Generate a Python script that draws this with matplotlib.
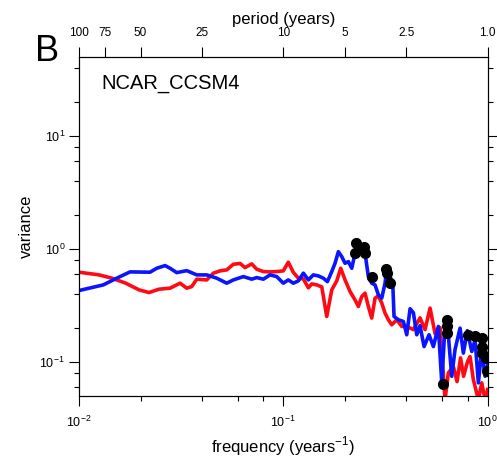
import matplotlib
matplotlib.use("Agg")
import matplotlib.pyplot as plt
from matplotlib.ticker import LogLocator, NullFormatter, NullLocator

plt.rcParams['font.family'] = ['Liberation Sans', 'DejaVu Sans']
plt.rcParams['mathtext.fontset'] = 'custom'
plt.rcParams['mathtext.rm'] = 'Liberation Sans'

# red spectrum (frequency in 1/years, variance)
red_freq = [0.0100, 0.01253, 0.0145, 0.01693, 0.01967, 0.02201, 0.02465, 0.0279,
            0.03123, 0.03368, 0.03563, 0.0377, 0.04219, 0.04545, 0.04901, 0.05287,
            0.05695, 0.06143, 0.06498, 0.07007, 0.07413, 0.07986, 0.08614, 0.09289,
            0.1000, 0.1058, 0.1120, 0.1185, 0.1254, 0.1327, 0.1378, 0.1458, 0.1543,
            0.1632, 0.1727, 0.1827, 0.1911, 0.2006, 0.2123, 0.2245, 0.2331, 0.2422,
            0.2513, 0.2609, 0.2710, 0.2813, 0.2920, 0.3034, 0.3149, 0.3269, 0.3396,
            0.3594, 0.3802, 0.4022, 0.4334, 0.4672, 0.4943, 0.5230, 0.5534, 0.5855,
            0.6193, 0.6428, 0.6801, 0.7090, 0.7375, 0.7629, 0.7981, 0.8208, 0.8520,
            0.9016, 0.9366, 0.9723, 1.0]
red_var = [0.619, 0.586, 0.548, 0.495, 0.432, 0.409, 0.438, 0.447,
           0.495, 0.447, 0.462, 0.537, 0.529, 0.607, 0.636, 0.649,
           0.728, 0.740, 0.680, 0.733, 0.658, 0.627, 0.623, 0.627,
           0.636, 0.759, 0.617, 0.548, 0.540, 0.450, 0.488, 0.478, 0.459,
           0.251, 0.432, 0.519, 0.671, 0.529, 0.417, 0.352, 0.308, 0.377,
           0.404, 0.308, 0.243, 0.365, 0.382, 0.330, 0.269, 0.235, 0.212,
           0.235, 0.205, 0.205, 0.192, 0.244, 0.192, 0.298, 0.177, 0.200,
           0.046, 0.0795, 0.0909, 0.0666, 0.108, 0.0742, 0.100, 0.111, 0.0694,
           0.046, 0.0649, 0.046, 0.0566]

# blue spectrum
blue_freq = [0.0100, 0.01315, 0.0153, 0.01777, 0.02226, 0.02401, 0.02637, 0.0279,
             0.03009, 0.03368, 0.0377, 0.04219, 0.04723, 0.05287, 0.05695, 0.06375,
             0.07007, 0.07413, 0.07986, 0.08614, 0.09289, 0.1000, 0.1058, 0.1120,
             0.1185, 0.1254, 0.1327, 0.1403, 0.1485, 0.1571, 0.1644, 0.1727, 0.1792,
             0.1860, 0.1933, 0.2006, 0.2083, 0.2164, 0.2245, 0.2331, 0.2422, 0.2513,
             0.2609, 0.2710, 0.2813, 0.2920, 0.3034, 0.3149, 0.3210, 0.3332, 0.3435,
             0.3485, 0.3659, 0.3870, 0.4022, 0.4175, 0.4334, 0.4502, 0.4672, 0.4888,
             0.5171, 0.5429, 0.5742, 0.5968, 0.6193, 0.6428, 0.6678, 0.6932, 0.7334,
             0.7612, 0.7964, 0.8370, 0.8686, 0.9016, 0.9366, 0.9723, 1.0]
blue_var = [0.426, 0.478, 0.548, 0.623, 0.619, 0.671, 0.708, 0.671,
            0.614, 0.639, 0.586, 0.586, 0.548, 0.495, 0.529, 0.566,
            0.537, 0.555, 0.537, 0.586, 0.566, 0.495, 0.529, 0.495,
            0.519, 0.607, 0.529, 0.586, 0.574, 0.548, 0.511, 0.627, 0.743,
            0.941, 0.850, 0.743, 0.768, 0.671, 0.911, 1.078, 1.041, 0.911,
            0.566, 0.495, 0.478, 0.390, 0.365, 0.495, 0.671, 0.566, 0.495,
            0.251, 0.235, 0.227, 0.173, 0.294, 0.271, 0.173, 0.208, 0.136,
            0.173, 0.136, 0.205, 0.0649, 0.212, 0.170, 0.0742, 0.128, 0.198,
            0.119, 0.188, 0.123, 0.156, 0.0649, 0.128, 0.0742, 0.0922]

# significant points
sig_freq = [0.2271, 0.2245, 0.2357, 0.2485, 0.2513, 0.2710, 0.3174, 0.3232, 0.3332,
            0.6314, 0.6314, 0.6314, 0.6036, 0.8054, 0.8686, 0.9366, 0.9366, 0.9366,
            0.9799, 0.9910]
sig_var = [1.116, 0.911, 0.988, 1.041, 0.911, 0.559, 0.658, 0.607, 0.501,
           0.235, 0.205, 0.179, 0.0639, 0.173, 0.170, 0.162, 0.136, 0.119,
           0.108, 0.0821]

period_labels = ['100', '75', '50', '25', '10', '5', '2.5', '1.0']
period_vals = [100, 75, 50, 25, 10, 5, 2.5, 1.0]

fig = plt.figure(figsize=(4.97, 4.61), dpi=100)
ax = fig.add_axes([0.159, 0.1417, 0.822, 0.7353])

ax.plot(red_freq, red_var, color='#ff0a14', lw=2.6, solid_joinstyle='round')
ax.plot(blue_freq, blue_var, color='#0a14ff', lw=2.6, solid_joinstyle='round')
ax.plot(sig_freq, sig_var, 'o', color='black', ms=7, mec='black')

ax.set_xscale('log')
ax.set_yscale('log')
ax.set_xlim(0.01, 1.0)
ax.set_ylim(0.05, 50)

ax.xaxis.set_minor_locator(LogLocator(base=10, subs=[2, 4, 6, 8]))
ax.yaxis.set_minor_locator(LogLocator(base=10, subs=[2, 4, 6, 8]))
ax.xaxis.set_minor_formatter(NullFormatter())
ax.yaxis.set_minor_formatter(NullFormatter())
ax.tick_params(which='both', direction='out', top=False, right=True, width=0.8)
ax.tick_params(which='major', length=7, labelsize=9)
ax.tick_params(axis='x', which='major', pad=7)
ax.tick_params(axis='y', which='major', pad=3)
ax.tick_params(which='minor', length=3.5)
for s in ax.spines.values():
    s.set_linewidth(0.8)

ax.set_xlabel('frequency (years$^{\\mathdefault{-1}}$)', fontsize=12, labelpad=3)
ax.set_ylabel('variance', fontsize=12, labelpad=4)

ax2 = ax.twiny()
ax2.set_xscale('log')
ax2.set_xlim(ax.get_xlim())
ax2.set_xticks([1.0 / p for p in period_vals])
ax2.set_xticklabels(period_labels)
ax2.xaxis.set_minor_locator(NullLocator())
ax2.tick_params(axis='x', direction='out', length=7, width=0.8, labelsize=8.5, pad=6)
ax2.set_xlabel('period (years)', fontsize=12, labelpad=2)

ax.text(0.0556, 0.905, 'NCAR_CCSM4', transform=ax.transAxes, fontsize=14.5,
        va='baseline', ha='left')
fig.text(35 / 497, 0.8677, 'B', fontsize=26, va='baseline', ha='left')

fig.savefig('out.png', dpi=100)
